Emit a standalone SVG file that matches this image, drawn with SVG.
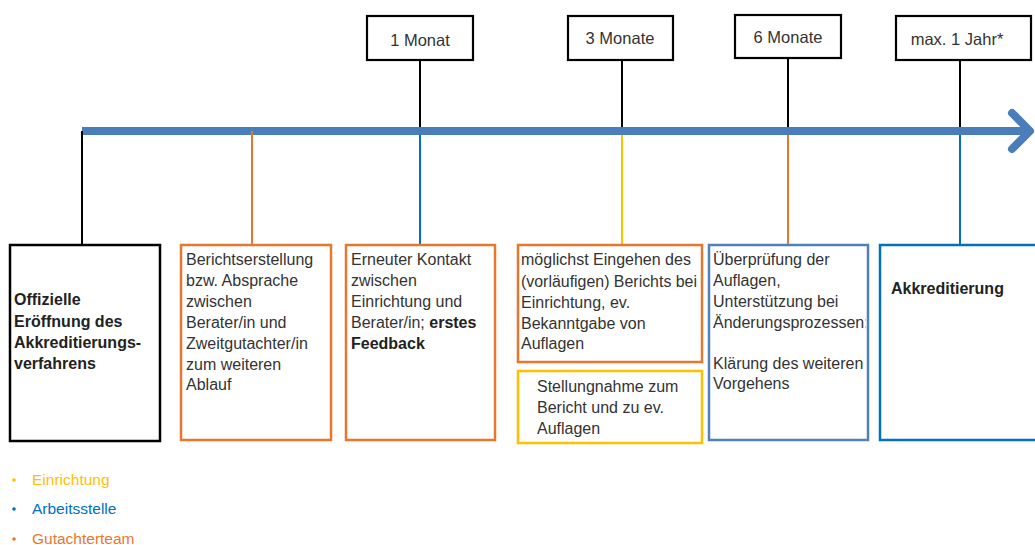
<svg xmlns="http://www.w3.org/2000/svg" width="1035" height="545" viewBox="0 0 1035 545">
<style>
text{font-family:"Liberation Sans",Arial,sans-serif;font-size:16px;fill:#333}
.b{font-weight:bold;fill:#222}
.top{fill:#fff;stroke:#000;stroke-width:2.2}
.lbl{text-anchor:middle;font-size:16.5px}
.blk{fill:#fff;stroke:#000;stroke-width:2.5}
.org{fill:#fff;stroke:#e8772e;stroke-width:2.5}
.yel{fill:#fff;stroke:#ffc000;stroke-width:2.5}
.blu{fill:#fff;stroke:#0070c0;stroke-width:2.5}
.lbl2{fill:#fff;stroke:#4f81bd;stroke-width:2.5}
.leg{font-size:15.5px}
</style>
<defs>
<clipPath id="c6"><rect x="709" y="245" width="157" height="195"/></clipPath>
</defs>
<rect width="1035" height="545" fill="#fff"/>
<g id="connectors">
<line x1="82" y1="131" x2="1026" y2="131" stroke="#4a7ebb" stroke-width="8"/>
<polyline points="1012,113 1030,131 1012,149" fill="none" stroke="#4a7ebb" stroke-width="8" stroke-linecap="round" stroke-linejoin="round"/>
<g stroke-width="2">
<line x1="420" y1="60" x2="420" y2="127" stroke="#000"/>
<line x1="622" y1="60" x2="622" y2="127" stroke="#000"/>
<line x1="788" y1="58" x2="788" y2="127" stroke="#000"/>
<line x1="960" y1="60" x2="960" y2="127" stroke="#000"/>
<line x1="82" y1="131" x2="82" y2="245" stroke="#000"/>
<line x1="252" y1="131" x2="252" y2="245" stroke="#e8772e"/>
<line x1="420" y1="135" x2="420" y2="245" stroke="#0070c0"/>
<line x1="622" y1="135" x2="622" y2="245" stroke="#ffc000"/>
<line x1="788" y1="135" x2="788" y2="245" stroke="#e8772e"/>
<line x1="960" y1="135" x2="960" y2="245" stroke="#0070c0"/>
</g>
</g>
<g id="t1"><rect class="top" x="367" y="16" width="106" height="44"/><text class="lbl" x="420" y="46">1 Monat</text></g>
<g id="t3"><rect class="top" x="568" y="16" width="105" height="44"/><text class="lbl" x="620" y="44">3 Monate</text></g>
<g id="t6"><rect class="top" x="735" y="15" width="106" height="43"/><text class="lbl" x="788" y="43">6 Monate</text></g>
<g id="t12"><rect class="top" x="896" y="16" width="135" height="44"/><text class="lbl" x="957" y="45">max. 1 Jahr*</text></g>

<g id="n1"><rect class="blk" x="10" y="245" width="150" height="196"/>
<text class="b" x="14" y="305">Offizielle</text>
<text class="b" x="14" y="327">Eröffnung des</text>
<text class="b" x="14" y="348">Akkreditierungs-</text>
<text class="b" x="14" y="369">verfahrens</text></g>

<g id="n2"><rect class="org" x="181" y="245" width="150" height="195"/>
<text x="186" y="265">Berichtserstellung</text>
<text x="186" y="286">bzw. Absprache</text>
<text x="186" y="307">zwischen</text>
<text x="186" y="328">Berater/in und</text>
<text x="186" y="349">Zweitgutachter/in</text>
<text x="186" y="370">zum weiteren</text>
<text x="186" y="390">Ablauf</text></g>

<g id="n3"><rect class="org" x="346" y="245" width="149" height="195"/>
<text x="351" y="265">Erneuter Kontakt</text>
<text x="351" y="286">zwischen</text>
<text x="351" y="307">Einrichtung und</text>
<text x="351" y="328">Berater/in; <tspan class="b">erstes</tspan></text>
<text class="b" x="351" y="349">Feedback</text></g>

<g id="n4"><rect class="org" x="518" y="245" width="184" height="117"/>
<text x="521" y="265">möglichst Eingehen des</text>
<text x="521" y="287" textLength="176" lengthAdjust="spacingAndGlyphs">(vorläufigen) Berichts bei</text>
<text x="521" y="308">Einrichtung, ev.</text>
<text x="521" y="329">Bekanntgabe von</text>
<text x="521" y="349">Auflagen</text></g>

<g id="n5"><rect class="yel" x="518" y="371" width="184" height="72"/>
<text x="537" y="392">Stellungnahme zum</text>
<text x="537" y="413">Bericht und zu ev.</text>
<text x="537" y="434">Auflagen</text></g>

<g id="n6"><rect class="lbl2" x="709" y="245" width="159" height="195"/>
<g clip-path="url(#c6)">
<text x="713" y="265">Überprüfung der</text>
<text x="713" y="286">Auflagen,</text>
<text x="713" y="307">Unterstützung bei</text>
<text x="713" y="328">Änderungsprozessen;</text>
<text x="713" y="369">Klärung des weiteren</text>
<text x="713" y="389">Vorgehens</text></g></g>

<g id="n7"><rect class="blu" x="880" y="245" width="160" height="195"/>
<text class="b" x="891" y="294">Akkreditierung</text></g>

<g id="legend">
<circle cx="14" cy="480" r="1.8" fill="#ffc000"/>
<text class="leg" x="32" y="485" style="fill:#ffc000">Einrichtung</text>
<circle cx="14" cy="509" r="1.8" fill="#0070c0"/>
<text class="leg" x="32" y="514" style="fill:#0070c0">Arbeitsstelle</text>
<circle cx="14" cy="539" r="1.8" fill="#e8772e"/>
<text class="leg" x="32" y="544" style="fill:#e8772e">Gutachterteam</text>
</g>
</svg>
